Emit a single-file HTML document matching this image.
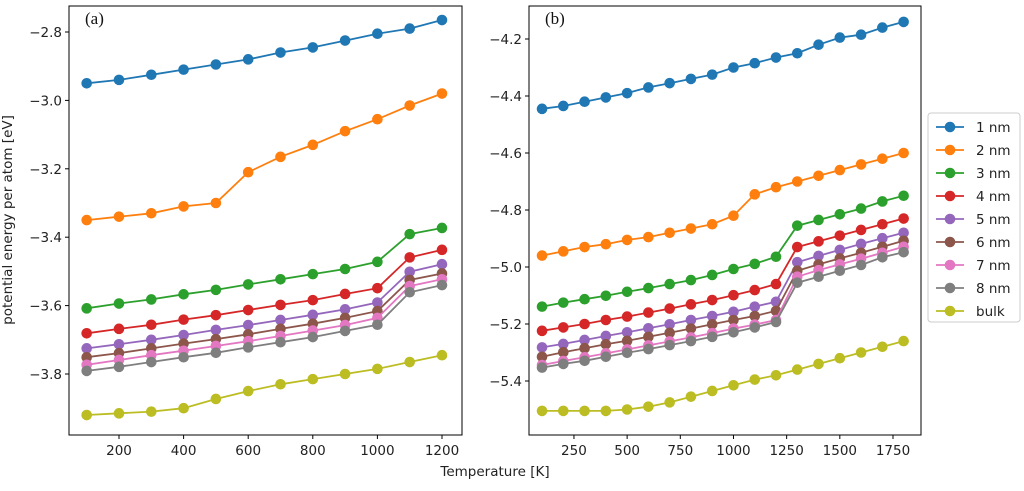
<!DOCTYPE html>
<html><head><meta charset="utf-8"><style>
body{margin:0;background:#fff;width:1024px;height:486px;overflow:hidden}
svg{font-family:"DejaVu Sans","Liberation Sans",sans-serif}
</style></head><body>
<svg id="c" width="1024" height="486"></svg>
<script>
const names=["1 nm","2 nm","3 nm","4 nm","5 nm","6 nm","7 nm","8 nm","bulk"];
const colors=["#1f77b4","#ff7f0e","#2ca02c","#d62728","#9467bd","#8c564b","#e377c2","#7f7f7f","#bcbd22"];
const tempsA=[100,200,300,400,500,600,700,800,900,1000,1100,1200];
const tempsB=[100,200,300,400,500,600,700,800,900,1000,1100,1200,1300,1400,1500,1600,1700,1800];
const seriesA=[
[-2.95,-2.94,-2.925,-2.91,-2.895,-2.88,-2.86,-2.845,-2.825,-2.805,-2.79,-2.765],
[-3.35,-3.34,-3.33,-3.31,-3.30,-3.21,-3.165,-3.13,-3.09,-3.055,-3.015,-2.98],
[-3.608,-3.594,-3.582,-3.567,-3.554,-3.538,-3.523,-3.508,-3.493,-3.472,-3.391,-3.373],
[-3.681,-3.668,-3.656,-3.641,-3.628,-3.613,-3.598,-3.584,-3.566,-3.549,-3.459,-3.437],
[-3.725,-3.713,-3.700,-3.686,-3.671,-3.657,-3.642,-3.627,-3.611,-3.591,-3.501,-3.479],
[-3.751,-3.739,-3.725,-3.711,-3.698,-3.684,-3.668,-3.653,-3.636,-3.616,-3.525,-3.506],
[-3.773,-3.759,-3.745,-3.732,-3.718,-3.704,-3.689,-3.673,-3.657,-3.636,-3.543,-3.523],
[-3.791,-3.779,-3.765,-3.751,-3.738,-3.722,-3.707,-3.692,-3.674,-3.656,-3.561,-3.540],
[-3.92,-3.915,-3.91,-3.90,-3.873,-3.85,-3.83,-3.815,-3.80,-3.785,-3.765,-3.745]];
const seriesB=[
[-4.445,-4.435,-4.42,-4.405,-4.39,-4.37,-4.355,-4.34,-4.325,-4.30,-4.285,-4.265,-4.25,-4.22,-4.195,-4.185,-4.16,-4.14],
[-4.96,-4.945,-4.93,-4.92,-4.905,-4.895,-4.88,-4.865,-4.85,-4.82,-4.745,-4.72,-4.70,-4.68,-4.66,-4.64,-4.62,-4.60],
[-5.139,-5.125,-5.113,-5.101,-5.087,-5.074,-5.060,-5.046,-5.028,-5.007,-4.989,-4.964,-4.855,-4.835,-4.815,-4.795,-4.77,-4.75],
[-5.224,-5.212,-5.2,-5.186,-5.174,-5.160,-5.146,-5.131,-5.116,-5.099,-5.081,-5.060,-4.93,-4.91,-4.89,-4.87,-4.85,-4.83],
[-5.282,-5.270,-5.256,-5.242,-5.229,-5.215,-5.201,-5.186,-5.172,-5.157,-5.139,-5.122,-4.983,-4.961,-4.940,-4.919,-4.899,-4.880],
[-5.315,-5.299,-5.285,-5.271,-5.259,-5.245,-5.231,-5.216,-5.201,-5.186,-5.172,-5.154,-5.013,-4.991,-4.970,-4.950,-4.929,-4.908],
[-5.344,-5.330,-5.317,-5.303,-5.289,-5.275,-5.261,-5.247,-5.232,-5.216,-5.202,-5.186,-5.034,-5.011,-4.991,-4.971,-4.950,-4.929],
[-5.353,-5.340,-5.329,-5.315,-5.301,-5.288,-5.274,-5.260,-5.245,-5.229,-5.212,-5.193,-5.055,-5.034,-5.013,-4.993,-4.966,-4.948],
[-5.505,-5.505,-5.505,-5.505,-5.50,-5.49,-5.475,-5.455,-5.435,-5.415,-5.395,-5.38,-5.36,-5.34,-5.32,-5.30,-5.28,-5.26]];
const xTicksA=[200,400,600,800,1000,1200];
const yTicksA=[-2.8,-3.0,-3.2,-3.4,-3.6,-3.8];
const xTicksB=[250,500,750,1000,1250,1500,1750];
const yTicksB=[-4.2,-4.4,-4.6,-4.8,-5.0,-5.2,-5.4];

const svg=document.getElementById('c');
const NS="http://www.w3.org/2000/svg";
function mk(tag,attrs,parent){const e=document.createElementNS(NS,tag);for(const k in attrs)e.setAttribute(k,attrs[k]);(parent||svg).appendChild(e);return e;}
function fmt(v){return (v<0?"\u2212":"")+Math.abs(v).toFixed(1);}

function panel(id,box,xs,ys,temps,series,xt,yt,label){
  const g=mk('g',{});
  
  
  const X=v=>xs[0]+(v-xs[1])*xs[2];
  const Y=v=>ys[0]+(v-ys[1])*ys[2];
  series.forEach((s,i)=>{
    const pts=s.map((v,j)=>X(temps[j]).toFixed(1)+','+Y(v).toFixed(1)).join(' ');
    const pl=mk('polyline',{points:pts,fill:'none',stroke:colors[i],'stroke-width':1.8},g);
    
    
    s.forEach((v,j)=>{
      const c=mk('circle',{cx:X(temps[j]),cy:Y(v),r:5.3,fill:colors[i]},g);
      
      
    });
  });
  const f=mk('rect',{x:box[0],y:box[1],width:box[2]-box[0],height:box[3]-box[1],fill:'none',stroke:'#000','stroke-width':1},g);
  
  
  xt.forEach(t=>{const x=X(t);
    mk('line',{x1:x,x2:x,y1:box[3],y2:box[3]+4,stroke:'#000'},g);
    const tx=mk('text',{x:x,y:box[3]+20,'text-anchor':'middle','font-size':13.5,fill:'#222'},g);
    tx.textContent=t;
    
    
  });
  yt.forEach(t=>{const y=Y(t);
    mk('line',{x1:box[0]-4,x2:box[0],y1:y,y2:y,stroke:'#000'},g);
    const tx=mk('text',{x:box[0]-7,y:y+5,'text-anchor':'end','font-size':13.5,fill:'#222'},g);
    tx.textContent=fmt(t);
    
    
  });
  const lb=mk('text',{x:box[0]+16,y:box[1]+18,'font-size':17,'font-family':'Liberation Serif,serif',fill:'#111'},g);
  lb.textContent=label;
  
  
}
panel('a',[69,6,462,435],[119,200,0.323],[32,-2.8,-342],tempsA,seriesA,xTicksA,yTicksA,'(a)');
panel('b',[529,6,921,435],[893,1750,0.2127],[39,-4.2,-285],tempsB,seriesB,xTicksB,yTicksB,'(b)');

const yl=mk('text',{x:0,y:0,transform:'translate(12,220) rotate(-90)','text-anchor':'middle','font-size':13.5,fill:'#222'});
yl.textContent='potential energy per atom [eV]';


const xl=mk('text',{x:495,y:476,'text-anchor':'middle','font-size':13.5,fill:'#222'});
xl.textContent='Temperature [K]';



const lg=mk('g',{});


mk('rect',{x:928,y:113,width:92,height:209,rx:3,fill:'#fff',stroke:'#ccc'},lg);
names.forEach((n,i)=>{
  const y=127+i*23;
  const e=mk('g',{},lg);
  
  
  mk('line',{x1:936,x2:964,y1:y,y2:y,stroke:colors[i],'stroke-width':1.8},e);
  mk('circle',{cx:950,cy:y,r:5.3,fill:colors[i]},e);
  const t=mk('text',{x:976,y:y+5,'font-size':13.5,fill:'#222'},e);
  t.textContent=n;
});
</script>
</body></html>
